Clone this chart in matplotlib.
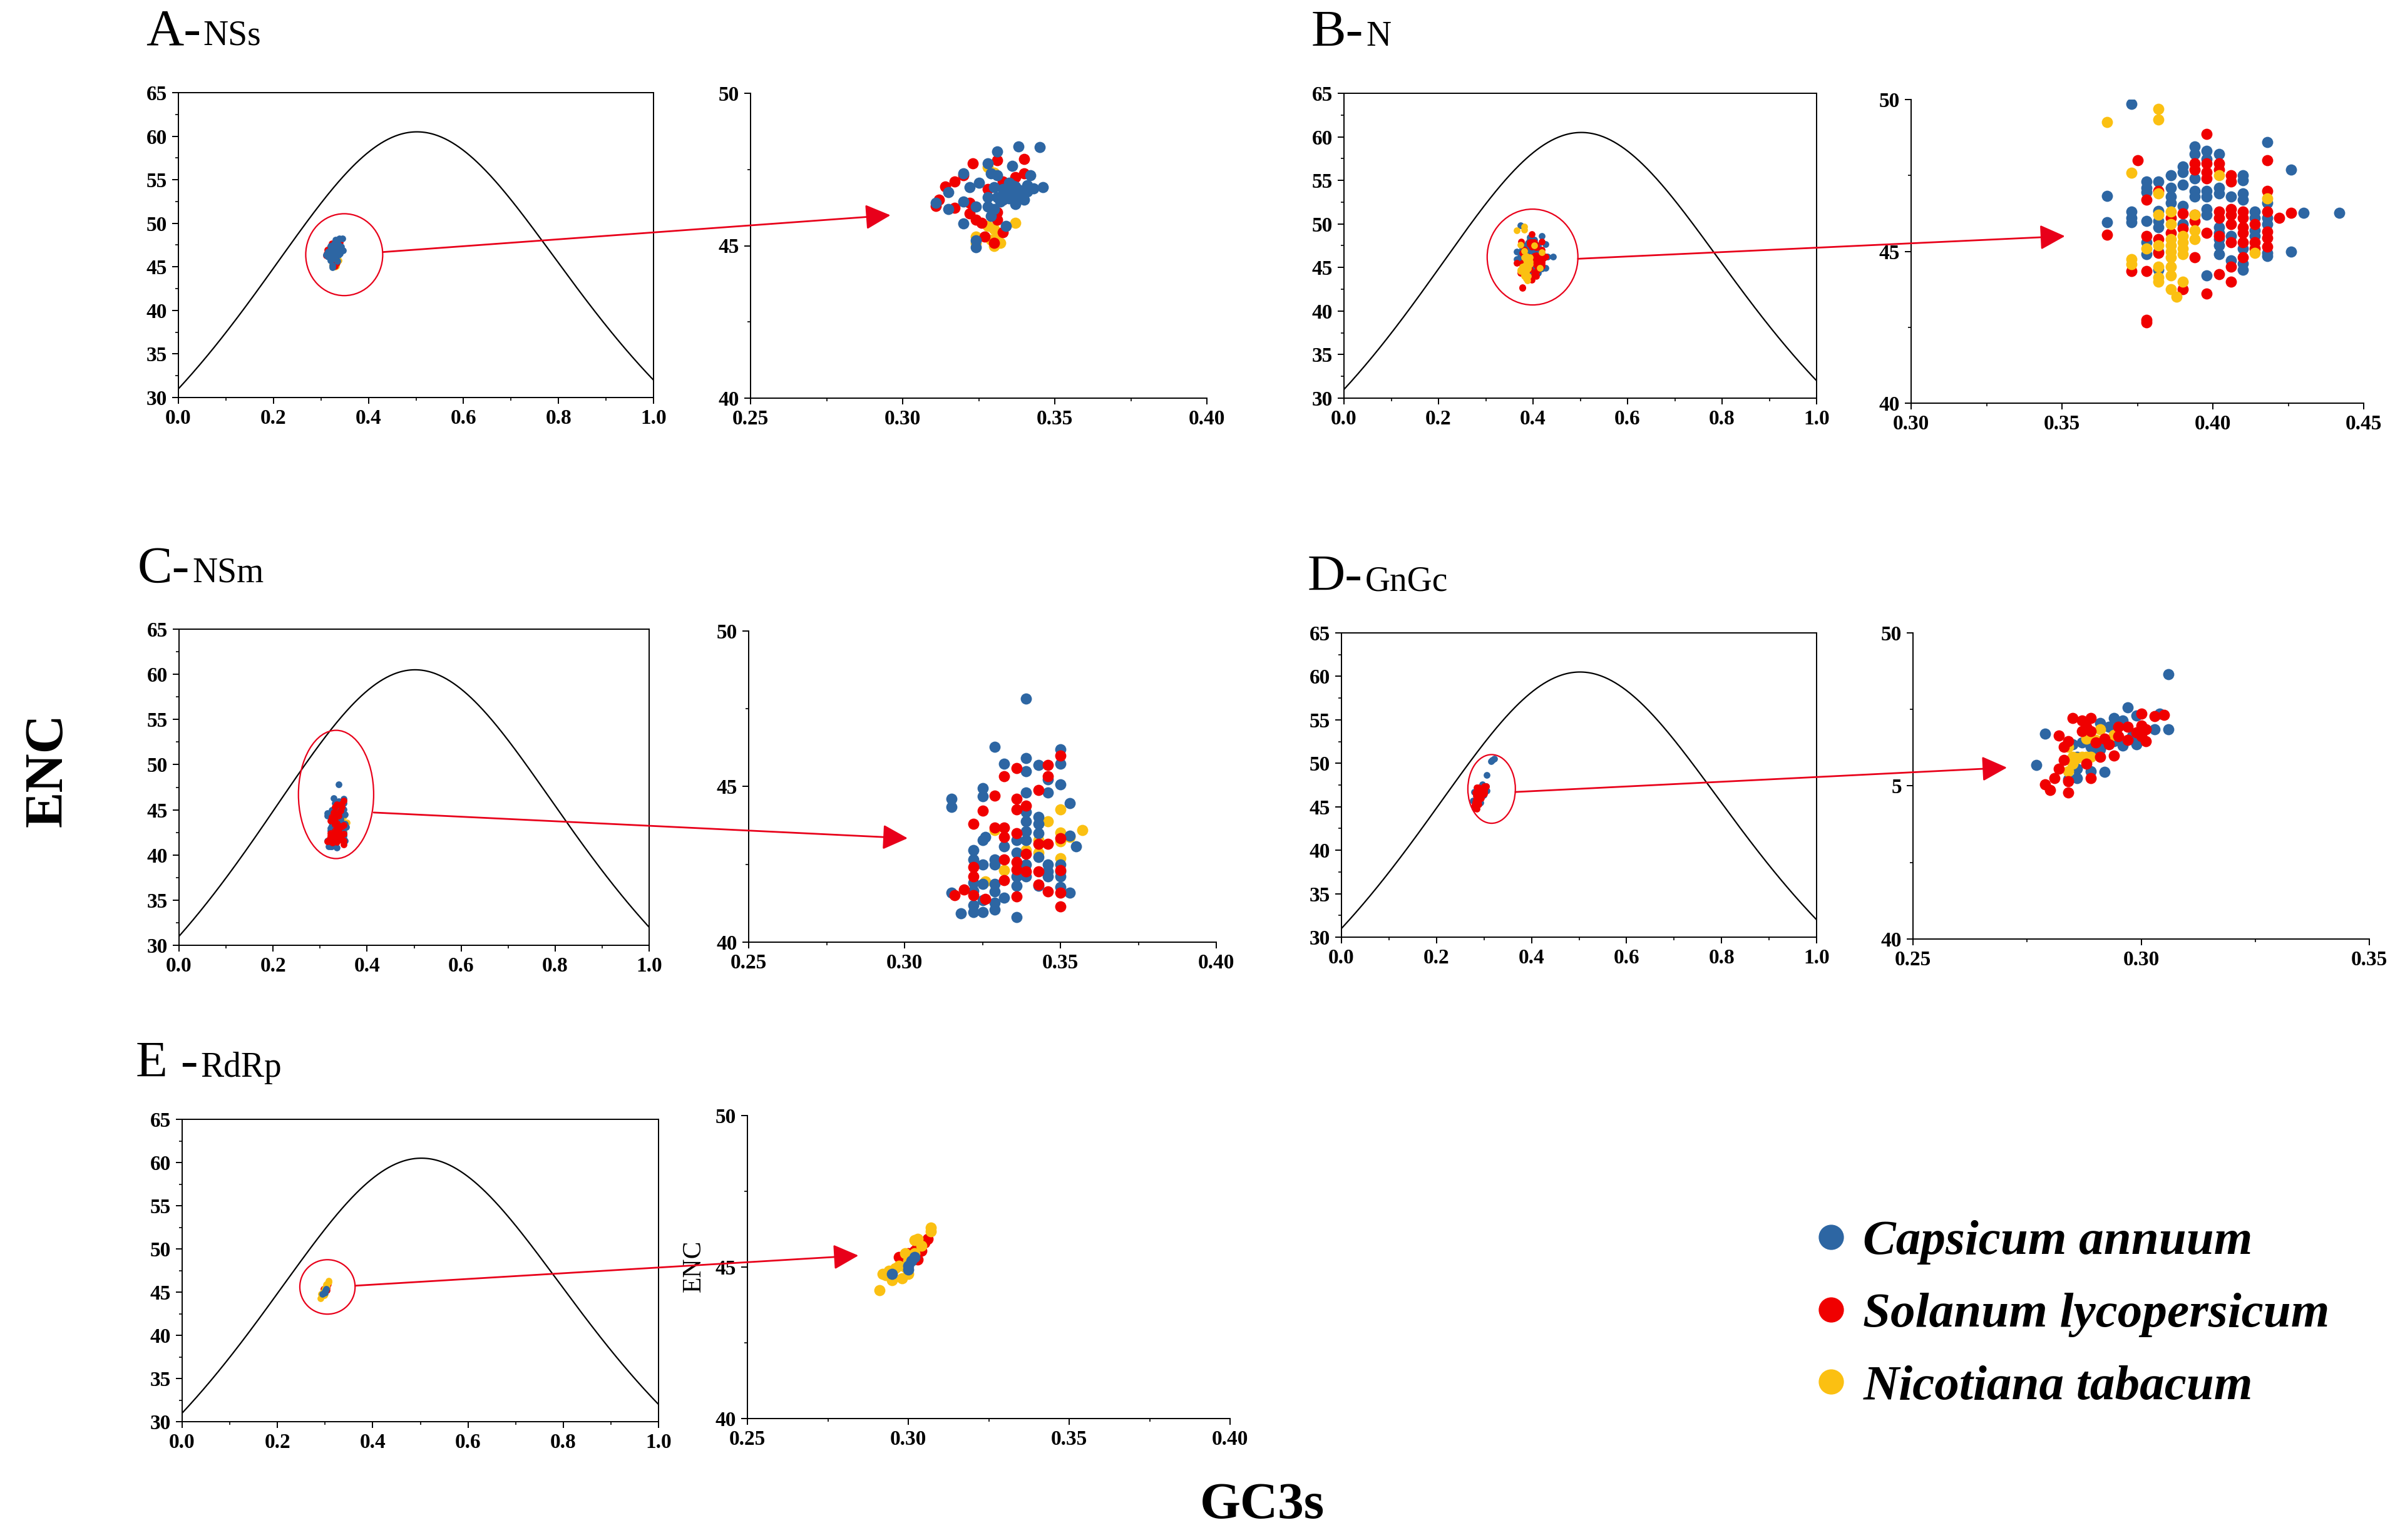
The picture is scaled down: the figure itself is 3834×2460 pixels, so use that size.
import numpy as np
import matplotlib.pyplot as plt
from matplotlib.patches import Ellipse, ConnectionPatch
from matplotlib.lines import Line2D
from matplotlib.ticker import MultipleLocator, FormatStrFormatter

plt.rcParams['font.family'] = ['Liberation Serif', 'DejaVu Serif']

# ---- data (GC3s, ENC) ----
species = ['Capsicum annuum', 'Solanum lycopersicum', 'Nicotiana tabacum']
colors = ['#2D66A3', '#F00000', '#FBC012']

A_capsicum = [(0.338, 48.25), (0.345, 48.23), (0.331, 48.09), (0.320, 47.38), (0.342, 47.30),
              (0.336, 47.62), (0.346, 46.91), (0.343, 46.87), (0.338, 46.83), (0.336, 46.75),
              (0.334, 46.67), (0.331, 46.60), (0.337, 46.36), (0.332, 46.44), (0.330, 46.91),
              (0.328, 46.60), (0.325, 47.07), (0.322, 46.91), (0.315, 46.75), (0.311, 46.40),
              (0.315, 46.20), (0.320, 46.44), (0.324, 46.28), (0.328, 46.28), (0.330, 46.20),
              (0.320, 45.73), (0.334, 45.65), (0.324, 45.18), (0.331, 47.30), (0.329, 47.38),
              (0.336, 46.99), (0.341, 46.99), (0.338, 46.60), (0.335, 47.07), (0.328, 47.70),
              (0.329, 45.97), (0.339, 46.70), (0.341, 46.78), (0.335, 46.55), (0.333, 46.85),
              (0.337, 46.95), (0.340, 46.50), (0.333, 46.50), (0.324, 44.95)]
A_solanum = [(0.323, 47.70), (0.340, 47.85), (0.340, 47.38), (0.331, 47.80), (0.320, 47.30),
             (0.317, 47.10), (0.314, 46.95), (0.312, 46.50), (0.311, 46.30), (0.317, 46.25),
             (0.322, 46.40), (0.322, 46.05), (0.324, 45.85), (0.328, 46.85), (0.331, 46.10),
             (0.331, 45.85), (0.333, 45.45), (0.327, 45.30), (0.330, 45.10), (0.333, 46.50),
             (0.333, 47.10), (0.337, 47.25), (0.341, 46.95), (0.326, 45.75)]
A_nicotiana = [(0.328, 47.57), (0.330, 47.40), (0.337, 45.75), (0.330, 45.55), (0.331, 45.30),
               (0.332, 45.10), (0.330, 45.00), (0.324, 45.10), (0.324, 45.30), (0.329, 45.20),
               (0.331, 45.45), (0.328, 45.65)]

B_capsicum = [(0.365, 46.83), (0.365, 45.95), (0.373, 49.85), (0.373, 46.30), (0.373, 46.10),
              (0.373, 45.95), (0.378, 47.30), (0.378, 47.10), (0.378, 46.95), (0.378, 46.00),
              (0.378, 45.30), (0.378, 44.90), (0.382, 47.30), (0.382, 46.32), (0.382, 46.00),
              (0.382, 45.80), (0.382, 45.00), (0.382, 44.40), (0.386, 47.50), (0.386, 47.10),
              (0.386, 46.80), (0.386, 46.60), (0.390, 47.80), (0.390, 47.60), (0.390, 47.20),
              (0.390, 46.50), (0.390, 45.90), (0.394, 48.45), (0.394, 48.20), (0.394, 47.40),
              (0.394, 47.00), (0.394, 46.80), (0.398, 48.30), (0.398, 48.05), (0.398, 47.00),
              (0.398, 46.80), (0.398, 46.40), (0.398, 46.20), (0.398, 44.20), (0.402, 48.20),
              (0.402, 47.10), (0.402, 46.90), (0.402, 45.80), (0.402, 45.60), (0.402, 45.40),
              (0.402, 45.20), (0.402, 44.90), (0.406, 46.80), (0.406, 45.50), (0.406, 44.70),
              (0.410, 47.50), (0.410, 47.35), (0.410, 46.90), (0.410, 46.70), (0.410, 45.10),
              (0.410, 44.60), (0.410, 44.40), (0.414, 46.30), (0.414, 46.10), (0.414, 45.70),
              (0.414, 45.50), (0.418, 48.60), (0.418, 46.60), (0.418, 46.10), (0.418, 45.90),
              (0.418, 44.95), (0.418, 44.85), (0.426, 47.70), (0.426, 44.98), (0.430, 46.26),
              (0.442, 46.26)]
B_solanum = [(0.365, 45.55), (0.373, 44.35), (0.375, 48.00), (0.378, 46.70), (0.378, 45.50),
             (0.378, 44.35), (0.378, 42.65), (0.378, 42.75), (0.382, 47.00), (0.382, 45.40),
             (0.382, 44.95), (0.386, 46.10), (0.386, 45.60), (0.390, 46.25), (0.390, 45.75),
             (0.390, 43.75), (0.394, 47.90), (0.394, 47.70), (0.394, 46.20), (0.394, 46.00),
             (0.394, 44.80), (0.398, 48.86), (0.398, 47.90), (0.398, 47.60), (0.398, 47.40),
             (0.398, 45.60), (0.398, 43.60), (0.402, 47.90), (0.402, 47.70), (0.402, 46.30),
             (0.402, 46.10), (0.402, 45.50), (0.402, 44.25), (0.406, 47.50), (0.406, 47.30),
             (0.406, 46.40), (0.406, 46.20), (0.406, 45.90), (0.406, 45.30), (0.406, 44.50),
             (0.406, 44.00), (0.410, 46.30), (0.410, 46.10), (0.410, 45.80), (0.410, 45.60),
             (0.410, 45.30), (0.410, 44.80), (0.414, 45.90), (0.414, 45.30), (0.414, 45.10),
             (0.418, 48.00), (0.418, 47.00), (0.418, 46.30), (0.418, 45.65), (0.418, 45.45),
             (0.418, 45.15), (0.422, 46.10), (0.426, 46.27)]
B_nicotiana = [(0.365, 49.25), (0.373, 47.58), (0.373, 44.75), (0.373, 44.58), (0.382, 49.70),
               (0.382, 49.35), (0.378, 45.10), (0.382, 46.90), (0.382, 46.20), (0.382, 45.20),
               (0.382, 44.50), (0.382, 44.00), (0.382, 44.15), (0.386, 46.30), (0.386, 45.90),
               (0.386, 45.40), (0.386, 45.20), (0.386, 45.00), (0.386, 44.80), (0.386, 44.50),
               (0.386, 44.20), (0.386, 43.75), (0.390, 45.50), (0.390, 45.30), (0.390, 45.10),
               (0.390, 44.90), (0.390, 44.00), (0.388, 43.50), (0.394, 46.20), (0.394, 45.70),
               (0.394, 45.40), (0.402, 47.50), (0.414, 44.95), (0.418, 46.75)]

C_capsicum = [(0.339, 47.82), (0.329, 46.28), (0.350, 46.20), (0.350, 45.73), (0.339, 45.92),
              (0.339, 45.50), (0.332, 45.73), (0.343, 45.69), (0.346, 45.23), (0.350, 45.07),
              (0.325, 44.95), (0.325, 44.69), (0.339, 44.80), (0.346, 44.80), (0.315, 44.61),
              (0.315, 44.34), (0.353, 44.46), (0.339, 44.19), (0.339, 43.88), (0.343, 44.03),
              (0.343, 43.81), (0.326, 43.38), (0.325, 43.27), (0.339, 43.57), (0.339, 43.27),
              (0.343, 43.50), (0.343, 42.73), (0.336, 43.27), (0.332, 43.07), (0.322, 42.96),
              (0.322, 42.65), (0.329, 42.65), (0.325, 42.50), (0.329, 42.50), (0.336, 42.88),
              (0.339, 42.50), (0.339, 42.11), (0.346, 42.50), (0.346, 42.11), (0.350, 42.50),
              (0.350, 42.11), (0.355, 43.07), (0.353, 43.42), (0.336, 42.11), (0.336, 41.81),
              (0.322, 41.92), (0.322, 41.65), (0.325, 41.88), (0.329, 41.88), (0.329, 41.62),
              (0.329, 41.27), (0.329, 41.04), (0.332, 41.42), (0.315, 41.58), (0.318, 40.92),
              (0.322, 40.96), (0.325, 40.96), (0.322, 41.19), (0.325, 41.35), (0.336, 40.81),
              (0.350, 41.77), (0.353, 41.58), (0.343, 41.81), (0.346, 42.27), (0.350, 42.27)]
C_solanum = [(0.336, 45.59), (0.332, 45.34), (0.346, 45.69), (0.346, 45.34), (0.350, 45.99),
             (0.343, 44.88), (0.329, 44.71), (0.336, 44.61), (0.336, 44.27), (0.339, 44.38),
             (0.325, 44.23), (0.322, 43.81), (0.329, 43.69), (0.332, 43.69), (0.332, 43.38),
             (0.336, 43.50), (0.339, 42.84), (0.343, 43.15), (0.346, 43.15), (0.350, 43.34),
             (0.332, 42.65), (0.336, 42.57), (0.336, 42.34), (0.339, 42.27), (0.322, 42.42),
             (0.322, 42.11), (0.332, 42.00), (0.343, 42.27), (0.343, 41.85), (0.346, 41.62),
             (0.350, 41.58), (0.350, 42.31), (0.319, 41.69), (0.316, 41.50), (0.322, 41.50),
             (0.326, 41.38), (0.336, 41.46), (0.350, 41.15)]
C_nicotiana = [(0.329, 43.61), (0.350, 44.27), (0.346, 43.88), (0.357, 43.61), (0.350, 43.53),
               (0.353, 43.38), (0.350, 43.23), (0.343, 43.27), (0.343, 42.88), (0.339, 42.96),
               (0.350, 42.69), (0.326, 41.96), (0.332, 42.31)]

D_capsicum = [(0.306, 48.66), (0.297, 47.56), (0.299, 47.30), (0.304, 47.37), (0.294, 47.21),
              (0.296, 47.13), (0.291, 47.05), (0.293, 46.94), (0.303, 46.86), (0.306, 46.86),
              (0.279, 46.70), (0.298, 46.62), (0.299, 46.36), (0.296, 46.31), (0.294, 46.47),
              (0.292, 46.39), (0.291, 46.19), (0.289, 46.27), (0.287, 46.43), (0.285, 46.35),
              (0.286, 45.96), (0.288, 45.88), (0.289, 45.49), (0.286, 45.56), (0.286, 45.25),
              (0.292, 45.47), (0.277, 45.68), (0.284, 45.21), (0.290, 46.03), (0.315, 50.25),
              (0.318, 50.40), (0.322, 50.55)]
D_solanum = [(0.285, 47.21), (0.287, 47.13), (0.289, 47.21), (0.288, 46.94), (0.287, 46.78),
             (0.289, 46.78), (0.300, 47.37), (0.303, 47.29), (0.305, 47.33), (0.295, 46.94),
             (0.297, 46.94), (0.300, 46.97), (0.301, 46.86), (0.299, 46.74), (0.300, 46.62),
             (0.301, 46.47), (0.297, 46.50), (0.295, 46.62), (0.293, 46.35), (0.294, 45.99),
             (0.292, 46.54), (0.282, 46.65), (0.283, 46.27), (0.284, 46.47), (0.283, 45.84),
             (0.282, 45.56), (0.281, 45.25), (0.279, 45.05), (0.280, 44.86), (0.284, 45.16),
             (0.284, 44.78), (0.289, 45.25), (0.288, 45.72), (0.291, 45.96), (0.290, 46.43)]
D_nicotiana = [(0.284, 46.27), (0.285, 45.96), (0.286, 45.92), (0.287, 45.96), (0.288, 45.96),
               (0.289, 45.96), (0.290, 46.50), (0.294, 46.66), (0.291, 46.86), (0.288, 46.54),
               (0.285, 45.72), (0.284, 45.49)]

E_capsicum = [(0.295, 44.78), (0.300, 45.04), (0.301, 45.21), (0.302, 45.33), (0.300, 44.91)]
E_solanum = [(0.297, 45.33), (0.300, 45.46), (0.303, 45.25), (0.304, 45.54), (0.305, 45.80),
             (0.306, 45.92), (0.303, 45.71), (0.302, 45.54), (0.299, 45.04)]
E_nicotiana = [(0.291, 44.24), (0.292, 44.78), (0.294, 44.87), (0.295, 44.57), (0.296, 44.95),
               (0.298, 44.62), (0.299, 45.00), (0.300, 44.78), (0.300, 45.21), (0.302, 45.46),
               (0.302, 45.88), (0.303, 45.92), (0.304, 45.71), (0.307, 46.30), (0.307, 46.18),
               (0.299, 45.46), (0.297, 45.04), (0.293, 44.74)]

panel_data = {
    'A': [A_capsicum, A_solanum, A_nicotiana],
    'B': [B_capsicum, B_solanum, B_nicotiana],
    'C': [C_capsicum, C_solanum, C_nicotiana],
    'D': [D_capsicum, D_solanum, D_nicotiana],
    'E': [E_capsicum, E_solanum, E_nicotiana],
}

# ---- layout (pixel boxes x0, y0, x1, y1 on the 3834 x 2460 canvas) ----
W, H = 3834, 2460
panels = {
    'A': dict(big='A-', small='NSs', title=(233, 72),
              left=(285, 148, 1044, 635), right=(1199, 149, 1928, 636),
              xlim=(0.25, 0.40), ell=(0.349, 46.4, 0.162, 9.4),
              arrow=((0.430, 46.7), (0.296, 46.0)), order=[2, 1, 0]),
    'B': dict(big='B-', small='N', title=(2095, 73),
              left=(2147, 149, 2902, 636), right=(3053, 159, 3776, 644),
              xlim=(0.30, 0.45), ell=(0.399, 46.2, 0.192, 11.0),
              arrow=((0.495, 46.0), (0.351, 45.5)), order=[0, 1, 2]),
    'C': dict(big='C-', small='NSm', title=(220, 930),
              left=(286, 1005, 1037, 1510), right=(1196, 1008, 1943, 1505),
              xlim=(0.25, 0.40), ell=(0.334, 46.7, 0.160, 14.2),
              arrow=((0.414, 44.7), (0.301, 43.34)), order=[2, 0, 1]),
    'D': dict(big='D-', small='GnGc', title=(2089, 943),
              left=(2143, 1011, 2902, 1497), right=(3056, 1011, 3785, 1500),
              xlim=(0.25, 0.35), ell=(0.316, 47.05, 0.100, 7.9),
              arrow=((0.366, 46.7), (0.2706, 45.6)), order=[0, 2, 1],
              yticklabels=['40', '5', '50']),
    'E': dict(big='E -', small='RdRp', title=(217, 1720),
              left=(291, 1788, 1052, 2271), right=(1194, 1782, 1965, 2266),
              xlim=(0.25, 0.40), ell=(0.305, 45.6, 0.116, 6.3),
              arrow=((0.363, 45.74), (0.2845, 45.38)), order=[1, 2, 0]),
}


def rect(box):
    x0, y0, x1, y1 = box
    return [x0 / W, 1 - y1 / H, (x1 - x0) / W, (y1 - y0) / H]


def style_ticks(ax):
    ax.tick_params(which='major', direction='out', length=7, width=1.4, pad=6,
                   labelsize=24, top=False, right=False)
    ax.tick_params(which='minor', direction='out', length=3.5, width=1.2,
                   top=False, right=False)
    for lab in ax.get_xticklabels() + ax.get_yticklabels():
        lab.set_fontweight('bold')
    for sp in ax.spines.values():
        sp.set_linewidth(1.4)


fig = plt.figure(figsize=(W / 100, H / 100), dpi=100)

# expected ENC curve (Wright 1990): ENC = 2 + s + 29 / (s^2 + (1 - s)^2)
s = np.linspace(0, 1, 400)
enc_expected = 2 + s + 29 / (s ** 2 + (1 - s) ** 2)

red = '#E8001A'
titles = []
for key, p in panels.items():
    data = panel_data[key]
    axL = fig.add_axes(rect(p['left']))
    axR = fig.add_axes(rect(p['right']))

    axL.plot(s, enc_expected, color='black', lw=1.6)
    for i in p['order']:
        pts = np.array(data[i])
        axL.scatter(pts[:, 0], pts[:, 1], s=60, color=colors[i], linewidths=0, zorder=3)
        axR.scatter(pts[:, 0], pts[:, 1], s=165, color=colors[i], linewidths=0, zorder=3)

    cx, cy, ew, eh = p['ell']
    axL.add_patch(Ellipse((cx, cy), ew, eh, fill=False, ec=red, lw=1.6, zorder=4))

    axL.set_xlim(0, 1)
    axL.set_ylim(30, 65)
    axL.xaxis.set_major_locator(MultipleLocator(0.2))
    axL.xaxis.set_minor_locator(MultipleLocator(0.1))
    axL.yaxis.set_major_locator(MultipleLocator(5))
    axL.yaxis.set_minor_locator(MultipleLocator(2.5))
    axL.xaxis.set_major_formatter(FormatStrFormatter('%.1f'))
    style_ticks(axL)

    axR.set_xlim(*p['xlim'])
    axR.set_ylim(40, 50)
    axR.xaxis.set_major_locator(MultipleLocator(0.05))
    axR.xaxis.set_minor_locator(MultipleLocator(0.025))
    axR.yaxis.set_major_locator(MultipleLocator(5))
    axR.yaxis.set_minor_locator(MultipleLocator(2.5))
    axR.xaxis.set_major_formatter(FormatStrFormatter('%.2f'))
    if 'yticklabels' in p:
        axR.set_yticks([40, 45, 50])
        axR.set_yticklabels(p['yticklabels'])
    axR.spines['top'].set_visible(False)
    axR.spines['right'].set_visible(False)
    style_ticks(axR)

    (x0, y0), (x1, y1) = p['arrow']
    con = ConnectionPatch(xyA=(x0, y0), coordsA=axL.transData,
                          xyB=(x1, y1), coordsB=axR.transData,
                          arrowstyle='-|>,head_length=0.4,head_width=0.2',
                          mutation_scale=62, color=red, lw=2.0, zorder=10)
    fig.add_artist(con)

    tx, ty = p['title']
    t = fig.text(tx / W, 1 - ty / H, p['big'], fontsize=60, va='baseline', ha='left')
    titles.append((t, p['small'], ty))

# small part of each panel title follows its big letter
fig.canvas.draw()
for t, small, ty in titles:
    bb = t.get_window_extent()
    fig.text(bb.x1 / W + 0.001, 1 - ty / H, small, fontsize=40, va='baseline', ha='left')

# small axis label on panel E zoom
fig.text(1109 / W, 1 - 2022 / H, 'ENC', fontsize=30, rotation=90, ha='center', va='center')

# shared axis labels
fig.text(78 / W, 1 - 1230 / H, 'ENC', fontsize=62, fontweight='bold', rotation=90,
         ha='center', va='center')
fig.text(2016 / W, 1 - 2405 / H, 'GC3s', fontsize=60, fontweight='bold',
         ha='center', va='center')

handles = [Line2D([], [], ls='none', marker='o', ms=28, color=c) for c in colors]
fig.legend(handles, species, loc='center left', bbox_to_anchor=(2905 / W, 1 - 2100 / H),
           frameon=False, prop=dict(family='Liberation Serif', weight='bold', style='italic', size=57),
           handlelength=0.5, handletextpad=0.4, labelspacing=0.55, borderpad=0, borderaxespad=0)

fig.savefig('out.png', dpi=100, facecolor='white')
